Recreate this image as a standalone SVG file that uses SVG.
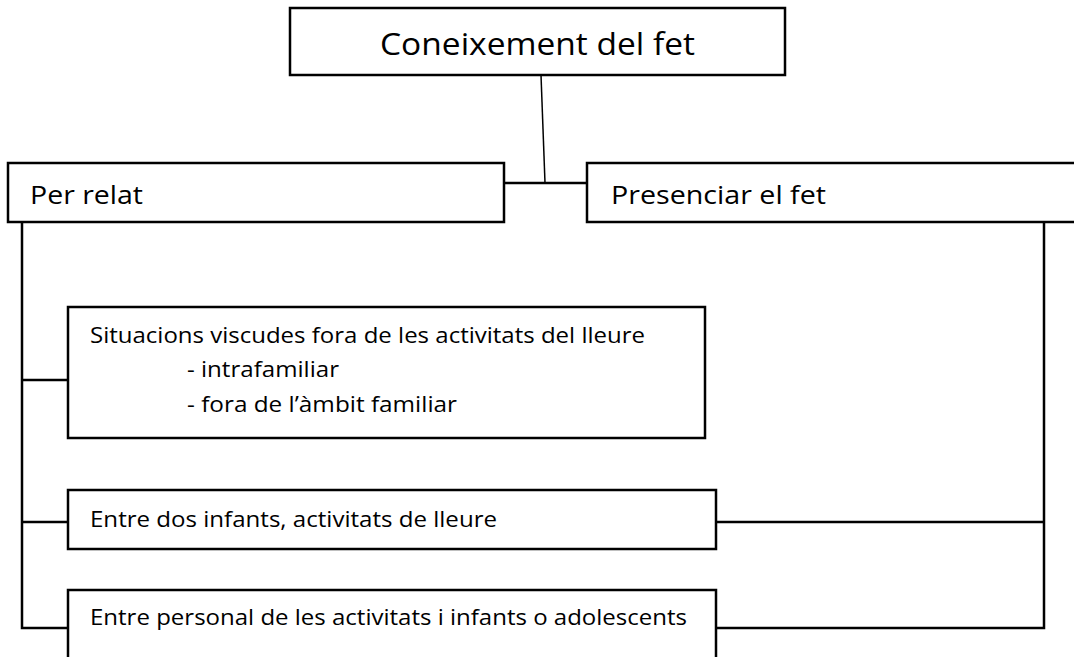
<svg xmlns="http://www.w3.org/2000/svg" width="1074" height="657" viewBox="0 0 1074 657">
<style>
.box{fill:#fff;stroke:#000;stroke-width:2.5}
.ln{fill:none;stroke:#000;stroke-width:2.5}
.thin{fill:none;stroke:#000;stroke-width:1.5}
text{font-family:"Open Sans","Liberation Sans",sans-serif;fill:#000}
</style>
<rect width="1074" height="657" fill="#fff"/>
<g id="connectors">
<path class="thin" d="M541,75 L545,183"/>
<path class="ln" d="M503,183 H587"/>
<path class="ln" d="M22,222 V628 H68"/>
<path class="ln" d="M22,380 H68"/>
<path class="ln" d="M22,522 H68"/>
<path class="ln" d="M1044,222 V628 H716"/>
<path class="ln" d="M716,522 H1044"/>
</g>
<g id="n-coneixement">
<rect class="box" x="290" y="8" width="495" height="67"/>
<text x="380" y="55" font-size="31" textLength="315" lengthAdjust="spacingAndGlyphs">Coneixement del fet</text>
</g>
<g id="n-perrelat">
<rect class="box" x="8" y="163" width="496" height="59"/>
<text x="30" y="204" font-size="26" textLength="113" lengthAdjust="spacingAndGlyphs">Per relat</text>
</g>
<g id="n-presenciar">
<rect class="box" x="587" y="163" width="500" height="59"/>
<text x="611" y="204" font-size="26" textLength="215" lengthAdjust="spacingAndGlyphs">Presenciar el fet</text>
</g>
<g id="n-situacions">
<rect class="box" x="68" y="307" width="637" height="131"/>
<text x="90" y="343" font-size="21" textLength="555" lengthAdjust="spacingAndGlyphs">Situacions viscudes fora de les activitats del lleure</text>
<text x="187" y="377" font-size="21" textLength="152" lengthAdjust="spacingAndGlyphs">- intrafamiliar</text>
<text x="187" y="412" font-size="21" textLength="270" lengthAdjust="spacingAndGlyphs">- fora de l’àmbit familiar</text>
</g>
<g id="n-entredos">
<rect class="box" x="68" y="490" width="648" height="59"/>
<text x="90" y="527" font-size="21" textLength="407" lengthAdjust="spacingAndGlyphs">Entre dos infants, activitats de lleure</text>
</g>
<g id="n-entrepersonal">
<rect class="box" x="68" y="590" width="648" height="80"/>
<text x="90" y="625" font-size="21" textLength="597" lengthAdjust="spacingAndGlyphs">Entre personal de les activitats i infants o adolescents</text>
</g>
</svg>
